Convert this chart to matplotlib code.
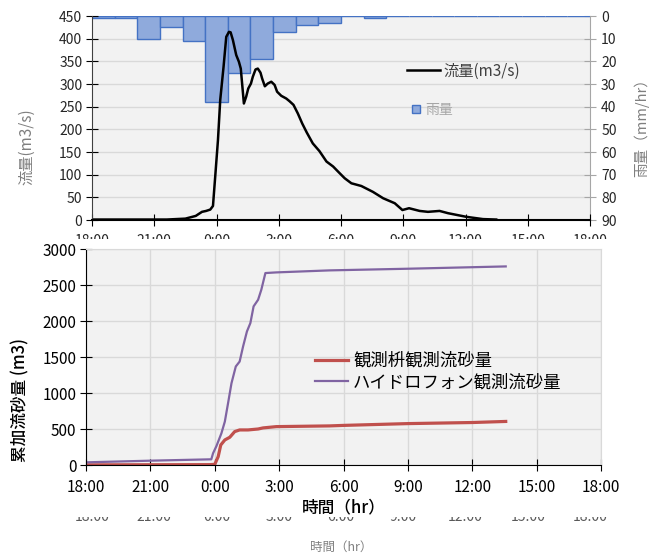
import matplotlib
matplotlib.use("Agg")
import matplotlib.pyplot as plt
from matplotlib.patches import Rectangle
import numpy as np

plt.rcParams['font.family'] = ['Noto Sans CJK JP', 'DejaVu Sans']

# 時刻は 18:00 からの経過時間 (hr)
tick_hours = [0, 3, 6, 9, 12, 15, 18, 21, 24]
tick_labels = ["18:00", "21:00", "0:00", "3:00", "6:00", "9:00", "12:00", "15:00", "18:00"]

# 流量 (m3/s)
flow_t = [0, 1, 2, 3, 3.6, 4.5, 5.0, 5.3, 5.5, 5.7, 5.83, 5.95, 6.07, 6.18, 6.34,
          6.47, 6.6, 6.68, 6.79, 6.95, 7.08, 7.17, 7.32, 7.43, 7.53, 7.66, 7.75, 7.88,
          7.99, 8.12, 8.2, 8.33, 8.47, 8.64, 8.8, 8.92, 9.12, 9.36, 9.52, 9.71, 9.92,
          10.13, 10.35, 10.64, 10.96, 11.3, 11.62, 11.94, 12.18, 12.5, 12.98, 13.54,
          14.03, 14.59, 14.96, 15.28, 15.79, 16.19, 16.75, 17.16, 18.04, 18.84, 19.48]
flow_q = [1, 1, 1, 1, 1, 3, 9, 18, 20, 23, 31, 103, 176, 265, 338,
          404, 415, 414, 397, 364, 349, 334, 257, 272, 290, 301, 316, 332,
          334, 325, 312, 295, 301, 305, 298, 283, 274, 268, 262, 254, 235,
          213, 193, 169, 152, 129, 118, 103, 92, 81, 75, 62,
          48, 37, 22, 26, 20, 18, 20, 15, 7, 2, 1]

# 雨量 (mm/hr)、22区分
rain_mm = [1, 1, 10, 5, 11, 38, 25, 19, 7, 4, 3, 0, 1, 0, 0, 0, 0, 0, 0, 0, 0, 0]

# 累加流砂量 (m3)
hyd_t = [0, 3, 5.84, 5.92, 6.08, 6.31, 6.47, 6.62, 6.78, 6.98, 7.16, 7.32, 7.5,
         7.66, 7.81, 8.02, 8.17, 8.36, 8.87, 11.35, 15.0, 19.56]
hyd_v = [37, 60, 79, 162, 264, 440, 603, 858, 1136, 1368, 1437, 1646, 1855,
         1971, 2203, 2295, 2434, 2666, 2675, 2703, 2726, 2758]
box_t = [0, 5.77, 6.0, 6.16, 6.28, 6.47, 6.7, 6.93, 7.16, 7.55, 8.02, 8.25,
         8.87, 11.35, 12.0, 15.0, 18.0, 19.56]
box_v = [2, 5, 9, 116, 278, 348, 385, 464, 487, 487, 500, 515,
         533, 543, 550, 575, 590, 605]

W, H = 650, 553


def rect(l, t, r, b):
    return [l / W, 1 - b / H, (r - l) / W, (b - t) / H]


fig = plt.figure(figsize=(W / 100, H / 100), dpi=100)

# ---- 上段：雨量 (下側の軸) ----
ax_r = fig.add_axes(rect(92, 16, 590, 220))
ax_r.set_zorder(1)
ax_r.set_facecolor('#f2f2f2')
ax_r.bar(np.arange(len(rain_mm)) + 0.5, rain_mm, width=1.0,
         color='#8faadc', edgecolor='#4472c4', linewidth=1, label='雨量', zorder=2)
ax_r.set_xlim(0, len(rain_mm))
ax_r.set_ylim(90, 0)
ax_r.set_yticks(range(0, 91, 10))
ax_r.yaxis.tick_right()
ax_r.yaxis.set_label_position('right')
ax_r.set_xticks([])
ax_r.grid(axis='y', color='#d9d9d9', linewidth=1, zorder=0)
ax_r.set_axisbelow(True)
for s in ['left', 'top', 'bottom']:
    ax_r.spines[s].set_visible(False)
ax_r.spines['right'].set_color('#a6a6a6')
ax_r.tick_params(axis='y', direction='inout', length=8, color='#a6a6a6',
                 labelsize=10, labelcolor='#262626', pad=4)
ax_r.set_ylabel('雨量（mm/hr）', fontsize=10.5, color='#7f7f7f', rotation=90)
ax_r.yaxis.set_label_coords(1.088, 0.47)
ax_r.legend(loc='center left', bbox_to_anchor=(0.6426, 0.539), frameon=False,
            borderpad=0, borderaxespad=0, handlelength=0.58, handleheight=0.58,
            handletextpad=0.36, prop={'size': 10}, labelcolor='#a6a6a6')

# ---- 上段：流量 ----
ax1 = fig.add_axes(rect(92, 16, 590, 220))
ax1.set_zorder(2)
ax1.patch.set_visible(False)
ax1.plot(flow_t, flow_q, color='black', linewidth=1.8, label='流量(m3/s)')
ax1.set_xlim(0, 24)
ax1.set_ylim(0, 450)
ax1.set_yticks(range(0, 451, 50))
ax1.set_xticks(tick_hours)
ax1.set_xticklabels(tick_labels)
for s in ['top', 'right']:
    ax1.spines[s].set_visible(False)
ax1.spines['left'].set_color('#404040')
ax1.spines['bottom'].set_linewidth(1.5)
ax1.tick_params(axis='y', direction='inout', length=8, labelsize=10,
                labelcolor='#262626', pad=3)
ax1.tick_params(axis='x', direction='inout', length=8, labelsize=10,
                labelcolor='#262626', pad=6)
ax1.set_ylabel('流量(m3/s)', fontsize=11, color='#7f7f7f')
ax1.yaxis.set_label_coords(-0.114, 0.36)
ax1.legend(loc='center left', bbox_to_anchor=(0.6325, 0.73), frameon=False,
           borderpad=0, borderaxespad=0, handlelength=2.16, handletextpad=0.2,
           prop={'size': 11}, labelcolor='#404040')

# ---- 下に残った上段の時間軸 ----
ax_g = fig.add_axes(rect(92, 505, 590, 506))
ax_g.set_zorder(1)
ax_g.patch.set_visible(False)
for s in ax_g.spines.values():
    s.set_visible(False)
ax_g.set_xlim(0, 24)
ax_g.set_yticks([])
ax_g.set_xticks(tick_hours)
ax_g.set_xticklabels(tick_labels)
ax_g.tick_params(axis='x', length=0, labelsize=10, labelcolor='#595959', pad=3)
ax_g.set_xlabel('時間（hr）', fontsize=9, color='#808080', labelpad=12)

# 下段の画像の白地
fig.add_artist(Rectangle((0, 1 - 517 / H), 1, (517 - 239) / H,
                         transform=fig.transFigure, facecolor='white',
                         edgecolor='none', zorder=5))

# ---- 下段：累加流砂量 ----
ax2 = fig.add_axes(rect(86, 249, 601, 465))
ax2.set_zorder(6)
ax2.set_facecolor('#f2f2f2')
ax2.plot(box_t, box_v, color='#c0504d', linewidth=2.3, label='観測枡観測流砂量')
ax2.plot(hyd_t, hyd_v, color='#8064a2', linewidth=1.6, label='ハイドロフォン観測流砂量')
ax2.set_xlim(0, 24)
ax2.set_ylim(0, 3000)
ax2.set_yticks(range(0, 3001, 500))
ax2.set_xticks(tick_hours)
ax2.set_xticklabels(tick_labels)
ax2.grid(True, color='#d9d9d9', linewidth=1)
ax2.set_axisbelow(True)
ax2.spines['top'].set_color('#d9d9d9')
ax2.spines['right'].set_color('#d9d9d9')
ax2.tick_params(axis='y', direction='inout', length=8, labelsize=11,
                labelcolor='black', pad=3)
ax2.tick_params(axis='x', direction='inout', length=8, labelsize=11,
                labelcolor='black', pad=6)
ax2.set_ylabel('累加流砂量 (m3)', fontsize=12, fontweight='medium')
ax2.yaxis.set_label_coords(-0.11, 0.30)
ax2.set_xlabel('時間（hr）', fontsize=12, fontweight='medium', labelpad=2)
ax2.legend(loc='center left', bbox_to_anchor=(0.4447, 0.433), frameon=False,
           borderpad=0, borderaxespad=0, handlelength=1.9, handletextpad=0.29,
           labelspacing=0.2, prop={'size': 12.5})

fig.savefig('out.png', dpi=100)
